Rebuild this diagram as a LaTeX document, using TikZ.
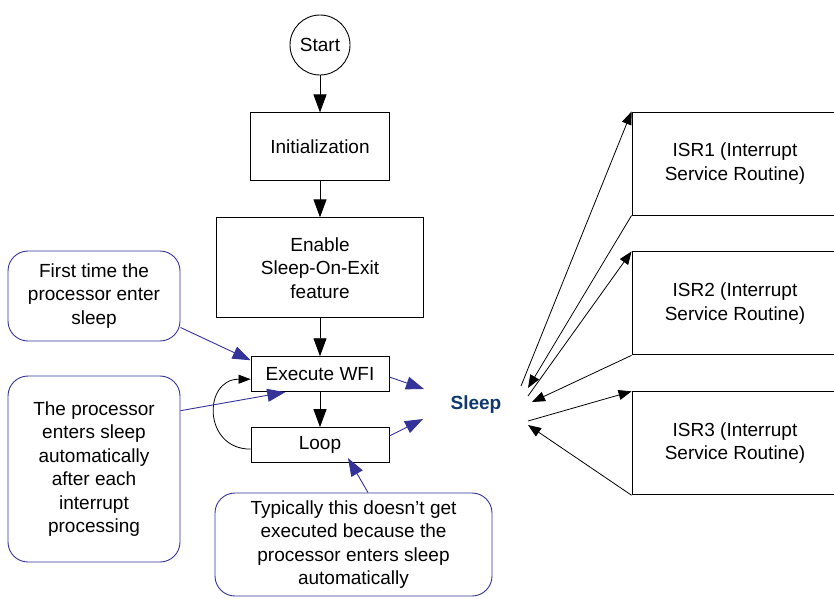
\documentclass[tikz,border=0pt]{standalone}
\usepackage{fontspec}
\setmainfont{Liberation Sans}
\usetikzlibrary{positioning,arrows.meta,calc}
\definecolor{noteblue}{RGB}{51,51,153}
\definecolor{sleepblue}{RGB}{16,56,112}

\begin{document}
\begin{tikzpicture}[
  x=1pt, y=-1pt,
  font=\fontsize{19}{23.5}\selectfont,
  >={Triangle[length=18pt,width=13pt]},
  box/.style={draw, line width=0.9pt, align=center, inner sep=0pt},
  stage/.style={box, minimum width=139pt, minimum height=68pt},
  slim/.style={box, minimum width=138pt, minimum height=35pt},
  isr/.style={box, minimum width=206pt, minimum height=103pt},
  note/.style={box, draw=noteblue, rounded corners=20pt},
  flow/.style={->, line width=0.9pt},
  irq/.style={-{Triangle[length=13pt,width=10pt]}, line width=0.8pt},
  hint/.style={-{Triangle[length=18pt,width=13pt]}, line width=0.9pt, noteblue},
]
\useasboundingbox (0,0) rectangle (834,598);
% ---- main flow ----
\node[box, circle, minimum size=60pt] (start) at (320,45) {Start};
\node[stage, below=37pt of start] (init) {Initialization};
\node[box, minimum width=207pt, minimum height=100pt, below=36pt of init] (enable)
  {Enable\\Sleep-On-Exit\\feature};
\node[slim, below=38pt of enable] (wfi) {Execute WFI};
\node[slim, below=35pt of wfi] (loop) {Loop};
% ---- sleep state ----
\node[font=\fontsize{19}{23.5}\selectfont\bfseries, text=sleepblue] (sleep) at (476,405) {Sleep};
\coordinate (in1) at (424,389);
\coordinate (in2) at (423,419);
% ---- interrupt handlers ----
\node[isr] (isr1) at (735,163.5) {ISR1 (Interrupt\\Service Routine)};
\node[isr, below=36pt of isr1] (isr2) {ISR2 (Interrupt\\Service Routine)};
\node[isr, below=36pt of isr2] (isr3) {ISR3 (Interrupt\\Service Routine)};
\coordinate (o1) at (521,386);
\coordinate (r1) at (528,388);
\coordinate (o2) at (528,396);
\coordinate (r2) at (532,402);
\coordinate (o3) at (528,421);
\coordinate (r3) at (528,425);
% ---- notes ----
\node[note, minimum width=172pt, minimum height=90pt] (first) at (94,296)
  {First time the\\processor enter\\sleep};
\node[note, minimum width=172pt, minimum height=186pt] (every) at (94,469)
  {The processor\\enters sleep\\automatically\\after each\\interrupt\\processing};
\node[note, minimum width=277pt, minimum height=103pt] (never) at (353.5,544.5)
  {Typically this doesn’t get\\executed because the\\processor enters sleep\\automatically};
% ---- arrows ----
\draw[flow] (start) -- (init);
\draw[flow] (init) -- (enable);
\draw[flow] (enable) -- (wfi);
\draw[flow] (wfi) -- (loop);
\draw[->, >={Triangle[length=12pt,width=9pt]}, line width=0.8pt]
  ($(loop.west)+(0,4)$) to[out=180, in=180, looseness=1.75] ($(wfi.west)+(0,5)$);
\draw[hint] (wfi.east |- 0,377) -- (in1);
\draw[hint] (loop.east |- 0,436) -- (in2);
\draw[hint] (first.-20) -- ($(wfi.north west)+(0,4)$);
\draw[hint] (every.34) -- ($(wfi.south west)!0.25!(wfi.south east)$);
\draw[hint] ($(never.north)+(14.5,0)$) -- ($(loop.south)+(28,-5)$);
\draw[irq] (o1) -- (isr1.north west);
\draw[irq] (isr1.south west) -- (r1);
\draw[irq] (o2) -- (isr2.north west);
\draw[irq] (isr2.south west) -- (r2);
\draw[irq] (o3) -- (isr3.north west);
\draw[irq] (isr3.south west) -- (r3);
\end{tikzpicture}
\end{document}
